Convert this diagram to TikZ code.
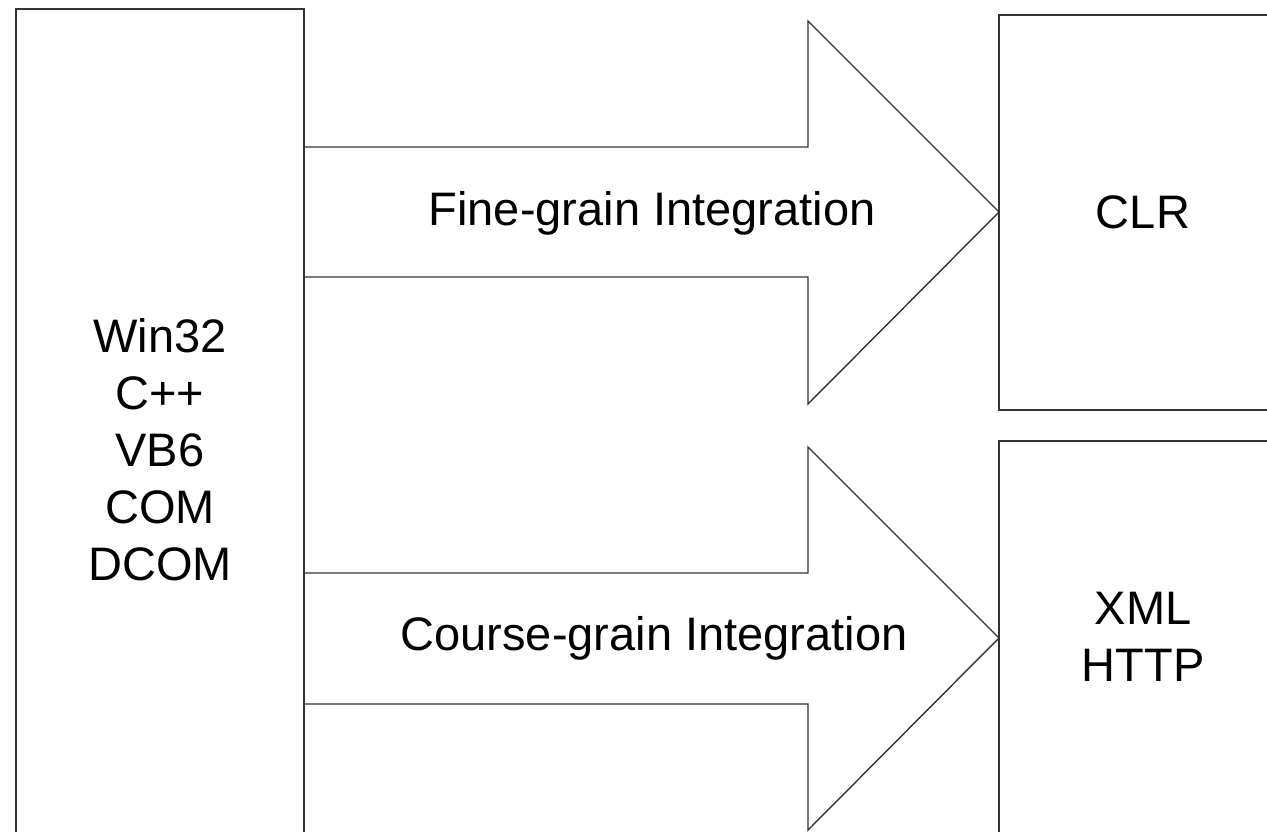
\documentclass[tikz,border=0pt]{standalone}
\usepackage{fontspec}
\setmainfont{Liberation Sans}
\begin{document}
\begin{tikzpicture}[x=1pt,y=-1pt,
  lbl/.style={font=\fontsize{47}{57}\selectfont, align=center, inner sep=0pt},
  edge/.style={draw=black!80, line width=1.4pt, line join=miter},
  box/.style={edge, fill=white}]
\useasboundingbox (0,0) rectangle (1267,832);
\clip (0,0) rectangle (1267,832);
\fill[white] (0,0) rectangle (1267,832);
% left box
\draw[box] (16,9) rectangle (304,892);
\node[lbl] (src) at (160,450) {Win32\\C++\\VB6\\COM\\DCOM};
% right boxes
\draw[box] (999,15) rectangle (1290,410);
\node[lbl] (clr) at (1143,212) {CLR};
\draw[box] (999,441) rectangle (1290,840);
\node[lbl] (xml) at (1143,637) {XML\\HTTP};
% arrows
\draw[edge] (304,147) -- (808,147) -- (808,21) -- (999,212) -- (808,404) -- (808,277) -- (304,277);
\node[lbl] (fine) at (652,213) {Fine-grain Integration};
\draw[edge] (304,573) -- (808,573) -- (808,447) -- (999,638) -- (808,830) -- (808,704) -- (304,704);
\node[lbl] (course) at (654,638) {Course-grain Integration};
\end{tikzpicture}
\end{document}
